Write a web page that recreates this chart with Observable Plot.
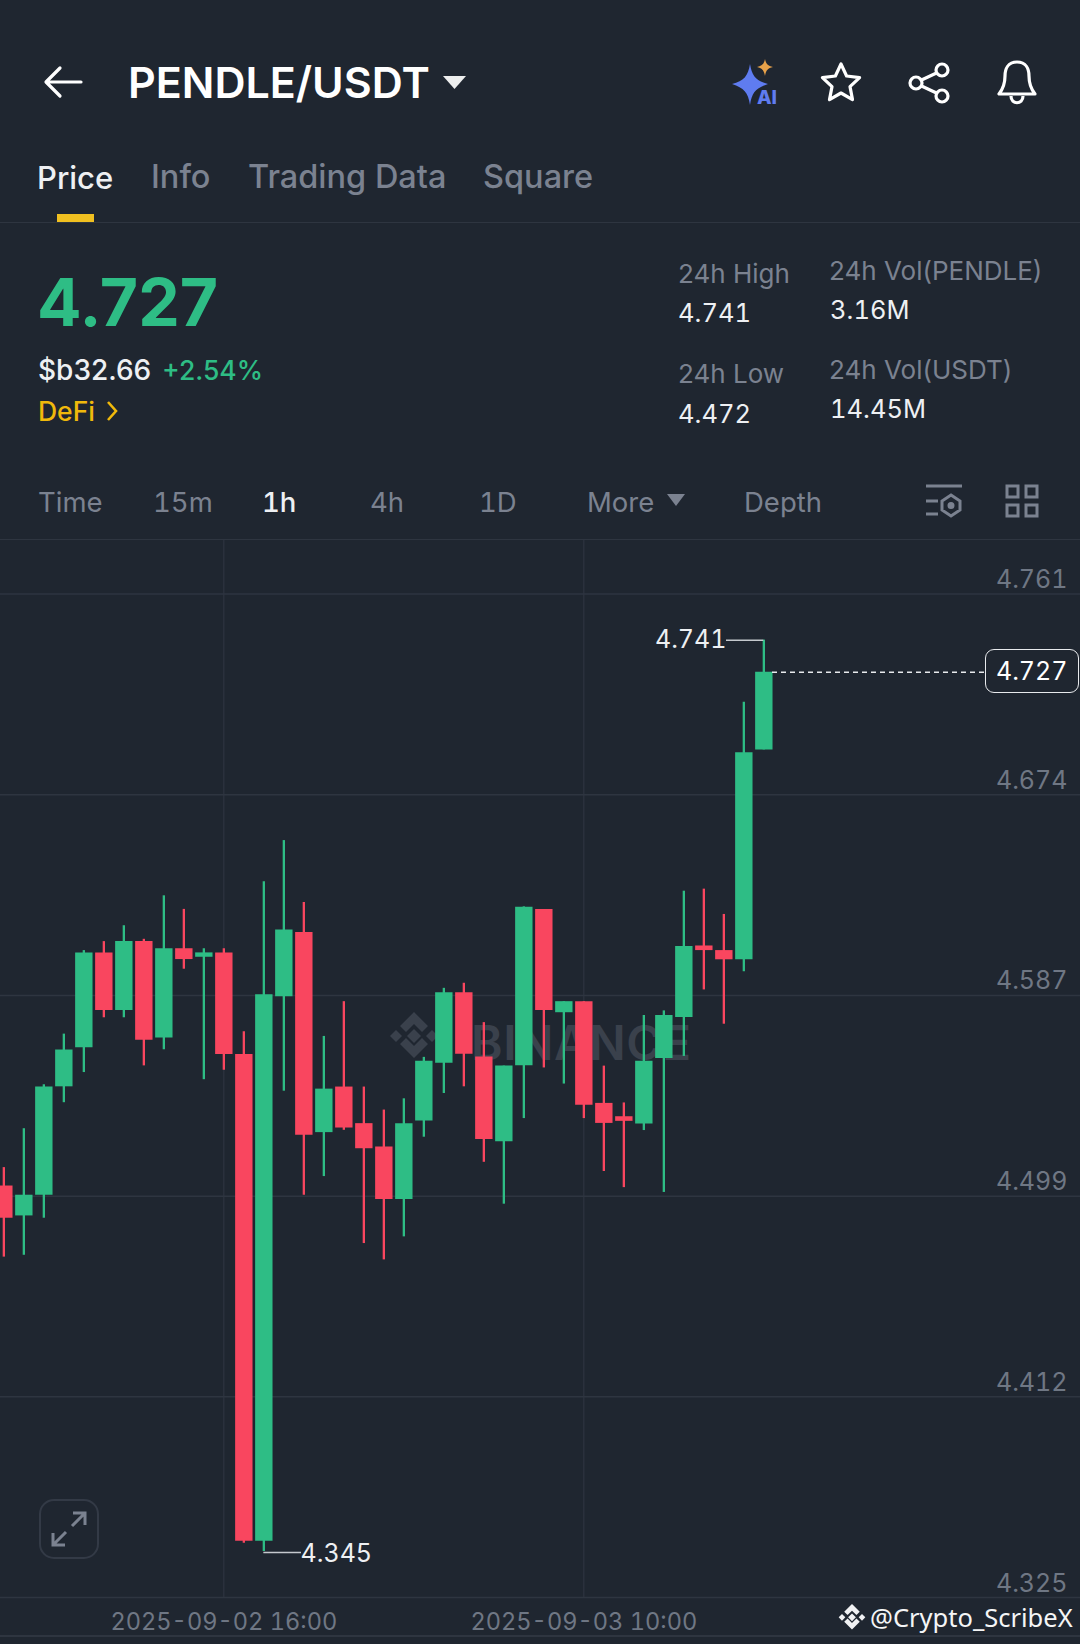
<!DOCTYPE html>
<html><head><meta charset="utf-8">
<script src="https://cdn.jsdelivr.net/npm/d3@7"></script>
<script src="https://cdn.jsdelivr.net/npm/@observablehq/plot@0.6"></script>
<style>
html,body{margin:0;padding:0;background:#1f2630;}
body{position:relative;width:1080px;height:1644px;overflow:hidden;font-family:Inter,sans-serif;color:#fff;}
.t{position:absolute;transform:translateY(-50%);white-space:nowrap;line-height:1;}
.tab{font-size:32.5px;font-weight:500;color:#7b8290;}
.g{color:#7b8290;font-size:26px;}
.w{color:#eef0f3;font-size:25.5px;font-variant-numeric:tabular-nums;}
.tb{font-size:27.5px;color:#7b8290;font-variant-numeric:tabular-nums;}
.hr{position:absolute;left:0;width:1080px;height:1.5px;background:#2e3540;}
svg.ic{position:absolute;overflow:visible;}
#chart{position:absolute;left:0;top:540px;}
#chart svg{display:block;background:transparent;}
</style></head><body>

<svg class="ic" style="left:44px;top:64px" width="38" height="36" viewBox="0 0 38 36" fill="none" stroke="#fff" stroke-width="3.2" stroke-linecap="round" stroke-linejoin="round"><path d="M37 18H3M16 4L2 18l14 14"/></svg>
<div class="t" style="left:128px;top:82px;font-size:43px;font-weight:600;">PENDLE/USDT</div>
<svg class="ic" style="left:443px;top:76px" width="23" height="14"><path d="M0 0H23L11.5 13Z" fill="#fff" opacity=".92"/></svg>

<svg class="ic" style="left:732px;top:58px" width="46" height="48" viewBox="0 0 46 48">
<path d="M18 6C20 18 24 23 36 26C24 30 20 34 18 47C16 34 12 30 0 26C12 23 16 18 18 6Z" fill="#5f7cf0"/>
<path d="M33 1C34 6 36 8 41 9C36 10 34 12 33 18C32 12 30 10 25 9C30 8 32 6 33 1Z" fill="#e8a24a"/>
<text x="25" y="46" font-family="Inter" font-weight="800" font-size="19" fill="#5f7cf0">AI</text></svg>
<svg class="ic" style="left:820px;top:62px" width="42" height="40" viewBox="0 0 42 40" fill="none" stroke="#fff" stroke-width="3.2" stroke-linejoin="round"><path d="M21 2l5.6 12 13 1.6-9.6 9 2.5 13L21 31l-11.5 6.6 2.5-13-9.6-9 13-1.6Z"/></svg>
<svg class="ic" style="left:908px;top:62px" width="42" height="42" viewBox="0 0 42 42" fill="none" stroke="#fff" stroke-width="3.2"><circle cx="34" cy="8" r="6"/><circle cx="8" cy="21" r="6"/><circle cx="34" cy="34" r="6"/><path d="M13.5 18L28.5 11M13.5 24L28.5 31"/></svg>
<svg class="ic" style="left:996px;top:60px" width="42" height="44" viewBox="0 0 42 44" fill="none" stroke="#fff" stroke-width="3.2" stroke-linejoin="round"><path d="M21 2C12 2 9 9 9 16c0 8-2 13-6 18h36c-4-5-6-10-6-18 0-7-3-14-12-14Z"/><path d="M15 36c0 9 12 9 12 0"/></svg>

<div class="t tab" style="left:37px;top:176.500px;color:#eef0f3;font-size:31px;">Price</div>
<div class="t tab" style="left:151px;top:176.500px;">Info</div>
<div class="t tab" style="left:248px;top:176.500px;">Trading Data</div>
<div class="t tab" style="left:483px;top:176.500px;">Square</div>
<div style="position:absolute;left:57px;top:214px;width:37px;height:8px;background:#f0c020;"></div>
<div class="hr" style="top:221.500px;"></div>

<div class="t" style="left:37px;top:302px;font-size:66px;font-weight:700;color:#2ebd85;">4.727</div>
<div class="t" style="left:38px;top:370px;font-size:28px;font-weight:500;color:#eef0f3;">$b32.66</div>
<div class="t" style="left:162px;top:370px;font-size:26.500px;font-weight:500;color:#2ebd85;">+2.54%</div>
<div class="t" style="left:38px;top:411px;font-size:26.500px;font-weight:500;color:#f0b90b;">DeFi</div>
<svg class="ic" style="left:107px;top:401px" width="11" height="20" fill="none" stroke="#f0b90b" stroke-width="2.6"><path d="M1 1l8 9-8 9"/></svg>

<div class="t g" style="left:678px;top:274px;">24h High</div>
<div class="t w" style="left:678px;top:313px;">4.741</div>
<div class="t g" style="left:678px;top:374px;">24h Low</div>
<div class="t w" style="left:678px;top:414px;">4.472</div>
<div class="t g" style="left:829px;top:271px;">24h Vol(PENDLE)</div>
<div class="t w" style="left:830px;top:310px;">3.16M</div>
<div class="t g" style="left:829px;top:370px;">24h Vol(USDT)</div>
<div class="t w" style="left:830px;top:409px;">14.45M</div>

<div class="t tb" style="left:38px;top:502.500px;">Time</div>
<div class="t tb" style="left:153px;top:502.500px;">15m</div>
<div class="t tb" style="left:262px;top:502.500px;color:#eef0f3;font-weight:500;">1h</div>
<div class="t tb" style="left:370px;top:502.500px;">4h</div>
<div class="t tb" style="left:479px;top:502.500px;">1D</div>
<div class="t tb" style="left:587px;top:502.500px;">More</div>
<svg class="ic" style="left:667px;top:494px" width="18" height="13"><path d="M0 0H18L9 12Z" fill="#7b8290"/></svg>
<div class="t tb" style="left:744px;top:502.500px;">Depth</div>
<svg class="ic" style="left:926px;top:484px" width="36" height="36" viewBox="0 0 36 36" fill="none" stroke="#7b8290" stroke-width="3"><path d="M0 2H36M0 17H12M0 30H12"/><path d="M25 11l9 6v9l-9 6-9-6v-9Z"/><circle cx="25" cy="21.500" r="2" fill="#7b8290"/></svg>
<svg class="ic" style="left:1005px;top:484px" width="34" height="34" viewBox="0 0 34 34" fill="none" stroke="#7b8290" stroke-width="3"><rect x="2" y="2" width="11" height="11"/><rect x="21" y="2" width="11" height="11"/><rect x="2" y="21" width="11" height="11"/><rect x="21" y="21" width="11" height="11"/></svg>
<div class="hr" style="top:538.500px;"></div>

<svg class="ic" style="left:390px;top:1012px" width="48" height="54" viewBox="0 0 48 54" fill="#3a414c"><path d="M24 0l14 14-6 6-8-8-8 8-6-6Z"/><path d="M24 34l8-8 6 6-14 14-14-14 6-6Z"/><path d="M0 24l6-6 6 6-6 6Z"/><path d="M36 24l6-6 6 6-6 6Z"/><path d="M24 17l7 7-7 7-7-7Z"/></svg>
<div class="t" style="left:471px;top:1043px;font-size:48px;font-weight:600;color:#3a414c;letter-spacing:.5px;">BINANCE</div>
<div style="position:absolute;left:984.500px;top:649px;width:92px;height:42px;border:1.5px solid #e8eaed;border-radius:9px;background:#1f2630;"></div>

<div id="chart"></div>

<div style="position:absolute;left:39px;top:1499px;width:56px;height:56px;border:2.5px solid #333a46;border-radius:15px;"></div>
<svg class="ic" style="left:51px;top:1511px" width="36" height="36" viewBox="0 0 36 36" fill="none" stroke="#7b8290" stroke-width="3"><path d="M21 15L34 2M22 2H34V14M15 21L2 34M14 34H2V22"/></svg>

<div class="hr" style="top:1635px;"></div>
<svg class="ic" style="left:838px;top:1604px" width="28" height="30" viewBox="0 0 48 54" fill="#f0f1f3"><path d="M24 0l14 14-6 6-8-8-8 8-6-6Z"/><path d="M24 34l8-8 6 6-14 14-14-14 6-6Z"/><path d="M0 24l6-6 6 6-6 6Z"/><path d="M36 24l6-6 6 6-6 6Z"/><path d="M24 17l7 7-7 7-7-7Z"/></svg>
<div class="t" style="left:870px;top:1618px;font-family:'Noto Sans';font-size:25.500px;color:#f4f5f6;">@Crypto_ScribeX</div>

<script>
const times = ["2025-09-02T05:00Z","2025-09-02T06:00Z","2025-09-02T07:00Z","2025-09-02T08:00Z","2025-09-02T09:00Z","2025-09-02T10:00Z","2025-09-02T11:00Z","2025-09-02T12:00Z","2025-09-02T13:00Z","2025-09-02T14:00Z","2025-09-02T15:00Z","2025-09-02T16:00Z","2025-09-02T17:00Z","2025-09-02T18:00Z","2025-09-02T19:00Z","2025-09-02T20:00Z","2025-09-02T21:00Z","2025-09-02T22:00Z","2025-09-02T23:00Z","2025-09-03T00:00Z","2025-09-03T01:00Z","2025-09-03T02:00Z","2025-09-03T03:00Z","2025-09-03T04:00Z","2025-09-03T05:00Z","2025-09-03T06:00Z","2025-09-03T07:00Z","2025-09-03T08:00Z","2025-09-03T09:00Z","2025-09-03T10:00Z","2025-09-03T11:00Z","2025-09-03T12:00Z","2025-09-03T13:00Z","2025-09-03T14:00Z","2025-09-03T15:00Z","2025-09-03T16:00Z","2025-09-03T17:00Z","2025-09-03T18:00Z","2025-09-03T19:00Z"];
const opens  = [4.5038,4.4908,4.4998,4.5469,4.5639,4.6051,4.5801,4.6100,4.5681,4.6069,4.6032,4.6051,4.5610,4.3494,4.5860,4.6140,4.5270,4.5468,4.5309,4.5207,4.4979,4.5320,4.5571,4.5878,4.5599,4.5230,4.5561,4.6239,4.5791,4.5839,4.5397,4.5339,4.5308,4.5592,4.5770,4.6081,4.6061,4.6021,4.6933];
const closes = [4.4898,4.4998,4.5468,4.5629,4.6051,4.5801,4.6100,4.5671,4.6069,4.6022,4.6051,4.5610,4.3494,4.5869,4.6150,4.5259,4.5459,4.5290,4.5200,4.4979,4.5309,4.5580,4.5878,4.5611,4.5240,4.5559,4.6249,4.5801,4.5839,4.5389,4.5310,4.5319,4.5580,4.5779,4.6079,4.6061,4.6021,4.6921,4.7270];
const highs  = [4.5118,4.5287,4.5478,4.5698,4.6061,4.6100,4.6169,4.6110,4.6299,4.6240,4.6069,4.6069,4.5708,4.6360,4.6539,4.6270,4.5688,4.5839,4.5468,4.5368,4.5417,4.5597,4.5897,4.5919,4.5748,4.5559,4.6251,4.6239,4.5839,4.5839,4.5559,4.5399,4.5779,4.5799,4.6319,4.6328,4.6218,4.7140,4.7410];
const lows   = [4.4729,4.4737,4.4898,4.5400,4.5531,4.5769,4.5769,4.5560,4.5630,4.5980,4.5500,4.5541,4.3486,4.3450,4.5450,4.4998,4.5079,4.5280,4.4788,4.4717,4.4817,4.5250,4.5440,4.5469,4.5141,4.4959,4.5331,4.5551,4.5481,4.5331,4.5101,4.5031,4.5279,4.5010,4.5601,4.5890,4.5741,4.5969,4.6933];
const priceTicks = [4.761,4.6738,4.5866,4.4994,4.4122,4.325];
const timeTicks = ["2025-09-02T16:00Z","2025-09-03T10:00Z"];
const lastPrice = 4.727, dayHigh = 4.741, dayLow = 4.345;
const highTime = "2025-09-03T19:00Z", lowTime = "2025-09-02T18:00Z";
const highLeader = "2025-09-03T17:08Z", lowLeader = "2025-09-02T19:53Z";
const lastStart = "2025-09-03T19:26Z", lastEnd = "2025-09-04T06:05Z";

const d = s => new Date(s);
const candles = times.map((t,i)=>({t:d(t),o:opens[i],c:closes[i],h:highs[i],l:lows[i],dir:closes[i]>=opens[i]?"up":"down"}));
const font = "Inter, sans-serif";

const chart = Plot.plot({
  width:1080, height:1104,
  marginTop:0, marginRight:0, marginBottom:47, marginLeft:0,
  style:{background:"transparent",fontFamily:font,overflow:"hidden"},
  x:{type:"utc",domain:[d(times[0]),d(times[times.length-1])],range:[3.33,763.33]},
  y:{domain:[4.325,4.761],range:[1057,53.6]},
  color:{domain:["up","down"],range:["#2ebd85","#f9465f"]},
  marks:[
    Plot.gridX(timeTicks.map(d),{stroke:"#2e3540",strokeOpacity:1,strokeWidth:1.2}),
    Plot.gridY(priceTicks,{stroke:"#2e3540",strokeOpacity:1,strokeWidth:1.5}),
    Plot.axisX(timeTicks.map(d),{anchor:"bottom",tickSize:0,tickPadding:16,tickFormat:d3.utcFormat("%Y-%m-%d %H:%M"),fontSize:23.6,fill:"#6f7784",stroke:null,label:null}),
    Plot.axisY(priceTicks,{anchor:"right",tickSize:0,tickPadding:0,textAnchor:"end",dx:-13,dy:-14,tickFormat:".3f",fontSize:25,fill:"#6f7784",label:null}),
    Plot.ruleX(candles,{x:"t",y1:"l",y2:"h",stroke:"dir",strokeWidth:2.3}),
    Plot.ruleX(candles,{x:"t",y1:"o",y2:"c",stroke:"dir",strokeWidth:17.4}),
    Plot.ruleY([lastPrice],{x1:d(lastStart),x2:d(lastEnd),stroke:"#e8eaed",strokeWidth:1.5,strokeDasharray:"5,4"}),
    Plot.ruleY([dayHigh],{x1:d(highLeader),x2:d(highTime),stroke:"#c5c9ce",strokeWidth:1.5}),
    Plot.ruleY([dayLow],{x1:d(lowTime),x2:d(lowLeader),dy:1,stroke:"#c5c9ce",strokeWidth:1.5}),
    Plot.text([dayHigh],{x:()=>d(highLeader),y:v=>v,text:v=>v.toFixed(3),textAnchor:"end",dx:0,fontSize:25,fontVariant:"tabular-nums",fill:"#eef0f3"}),
    Plot.text([dayLow],{x:()=>d(lowLeader),y:v=>v,text:v=>v.toFixed(3),textAnchor:"start",dx:-1,dy:3,fontSize:25,fontVariant:"tabular-nums",fill:"#eef0f3"}),
    Plot.text([lastPrice],{y:v=>v,frameAnchor:"right",text:v=>v.toFixed(3),textAnchor:"end",dx:-13,fontSize:25,fontVariant:"tabular-nums",fill:"#ffffff"})
  ]
});
document.getElementById("chart").append(chart);
</script>
</body></html>
